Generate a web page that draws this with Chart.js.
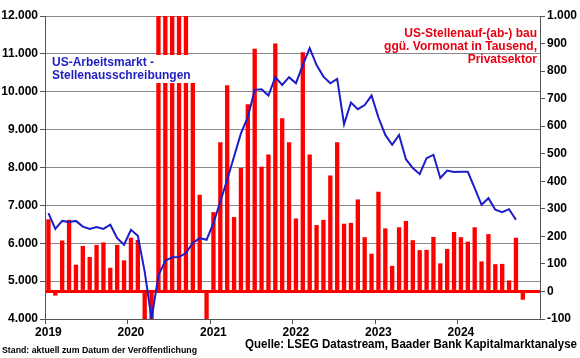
<!DOCTYPE html>
<html>
<head>
<meta charset="utf-8">
<script src="https://cdn.jsdelivr.net/npm/chart.js@4.4.0/dist/chart.umd.min.js"></script>
<style>
  html, body { margin: 0; padding: 0; background: #fff; }
  #wrap { width: 580px; height: 358px; }
</style>
</head>
<body>
<div id="wrap"><canvas id="myChart" width="580" height="358"></canvas></div>
<script>
// categories: monthly, Jan 2019 .. Dec 2024
const years = ['2019', '2020', '2021', '2022', '2023', '2024'];
const months = ['01', '02', '03', '04', '05', '06', '07', '08', '09', '10', '11', '12'];

// left axis (line), job openings in thousands, Jan 2019 .. Sep 2024
const stellenausschreibungen = [
  6795, 6380, 6590, 6560, 6590, 6440, 6380, 6425, 6380, 6490, 6135, 5960,
  6355, 6200, 5250, 4000, 5150, 5540, 5630, 5635, 5740, 6010, 6135, 6090,
  6530, 7100, 7675, 8290, 8900, 9330, 10050, 10065, 9900, 10385, 10180, 10385,
  10225, 10705, 11150, 10705, 10400, 10225, 10340, 9140, 9715, 9540, 9650, 9900,
  9320, 8860, 8600, 8860, 8220, 7985, 7825, 8245, 8335, 7725, 7920, 7880,
  7885, 7885, 7455, 7015, 7190, 6885, 6820, 6900, 6620
];

// right axis (bars), private payrolls change vs. prior month in thousands, Jan 2019 .. Oct 2024
const stellenaufbau = [
  262, -15, 185, 260, 97, 165, 125, 169, 178, 86, 169, 113,
  195, 187, -1450, -19800, 3200, 4600, 1500, 1100, 1050, 800, 351, -105,
  288, 542, 749, 270, 448, 680, 881, 453, 497, 900, 629, 542,
  265, 868, 497, 241, 260, 421, 542, 246, 249, 334, 197, 137,
  362, 229, 93, 233, 256, 186, 150, 151, 198, 102, 154, 216,
  197, 181, 233, 109, 208, 99, 100, 40, 195, -30
];

const labels = [];
years.forEach(y => months.forEach(m => labels.push(y + '-' + m)));

const fontFamily = '"Liberation Sans", Arial, sans-serif';
const tickFont = { family: fontFamily, size: 12, weight: 'bold' };
const fmt = v => String(v).replace(/\B(?=(\d{3})+(?!\d))/g, '.');

const textPlugin = {
  id: 'texts',
  afterDatasetsDraw(chart) {
    const { ctx, chartArea } = chart;
    ctx.save();
    // white box behind the blue label
    ctx.fillStyle = '#fff';
    ctx.fillRect(chartArea.left + 3, 55, 148, 28);
    ctx.font = 'bold 12px ' + fontFamily;
    ctx.textBaseline = 'middle';
    ctx.fillStyle = '#1f1fc0';
    ctx.textAlign = 'left';
    ctx.fillText('US-Arbeitsmarkt -', chartArea.left + 7, 63);
    ctx.fillText('Stellenausschreibungen', chartArea.left + 7, 76);
    ctx.fillStyle = '#e60012';
    ctx.textAlign = 'right';
    ctx.fillText('US-Stellenauf-(ab-) bau', chartArea.right - 3, 34);
    ctx.fillText('ggü. Vormonat in Tausend,', chartArea.right - 3, 47);
    ctx.fillText('Privatsektor', chartArea.right - 3, 59.5);
    ctx.restore();
  },
  afterDraw(chart) {
    const ctx = chart.ctx;
    const fitText = (txt, size, x, y, w) => {
      ctx.save();
      ctx.font = 'bold ' + size + 'px ' + fontFamily;
      const m = ctx.measureText(txt).width;
      ctx.translate(x, y);
      ctx.scale(w / m, 1);
      ctx.fillStyle = '#000';
      ctx.textAlign = 'left';
      ctx.textBaseline = 'middle';
      ctx.fillText(txt, 0, 0);
      ctx.restore();
    };
    fitText('Stand: aktuell zum Datum der Veröffentlichung', 9, 2, 351, 195);
    fitText('Quelle: LSEG Datastream, Baader Bank Kapitalmarktanalyse', 12, 245, 345, 332);
  }
};

new Chart(document.getElementById('myChart').getContext('2d'), {
  data: {
    labels: labels,
    datasets: [
      {
        type: 'line',
        label: 'Stellenausschreibungen',
        data: stellenausschreibungen,
        yAxisID: 'y',
        borderColor: '#1c1cc8',
        borderWidth: 2,
        pointRadius: 0,
        tension: 0,
        order: 0
      },
      {
        type: 'bar',
        label: 'Stellenaufbau',
        data: stellenaufbau,
        yAxisID: 'y1',
        backgroundColor: '#ff0000',
        barPercentage: 0.63,
        categoryPercentage: 1.0,
        order: 1
      }
    ]
  },
  options: {
    responsive: false,
    animation: false,
    devicePixelRatio: 1,
    layout: { padding: { top: 16, left: 0, right: 0, bottom: 0 } },
    plugins: { legend: { display: false }, tooltip: { enabled: false } },
    scales: {
      x: {
        type: 'category',
        offset: true,
        afterFit: s => { s.height = 39; },
        grid: {
          offset: true,
          drawOnChartArea: false,
          tickLength: 5,
          color: c => (c.index % 12 === 0 ? '#555' : 'rgba(0,0,0,0)')
        },
        border: { color: '#555' },
        ticks: {
          autoSkip: false,
          maxRotation: 0,
          padding: 1,
          color: '#000',
          font: tickFont,
          callback: (v, i) => (i % 12 === 0 ? labels[i].slice(0, 4) : '')
        }
      },
      y: {
        position: 'left',
        min: 4000,
        max: 12000,
        afterFit: s => { s.width = 45; },
        ticks: { stepSize: 1000, color: '#000', font: tickFont, padding: 2, callback: v => fmt(v) },
        grid: { color: '#8a8a8a', lineWidth: 1, tickLength: 5, tickColor: '#555' },
        border: { color: '#555' }
      },
      y1: {
        position: 'right',
        min: -100,
        max: 1000,
        afterFit: s => { s.width = 40; },
        ticks: { stepSize: 100, color: '#000', font: tickFont, padding: 2, callback: v => fmt(v) },
        grid: {
          tickLength: 5,
          tickColor: '#555',
          tickWidth: 1,
          color: c => (c.tick && c.tick.value === 0 ? '#ff0000' : 'rgba(0,0,0,0)'),
          lineWidth: c => (c.tick && c.tick.value === 0 ? 3 : 1)
        },
        border: { color: '#555' }
      }
    }
  },
  plugins: [textPlugin]
});
</script>
</body>
</html>
